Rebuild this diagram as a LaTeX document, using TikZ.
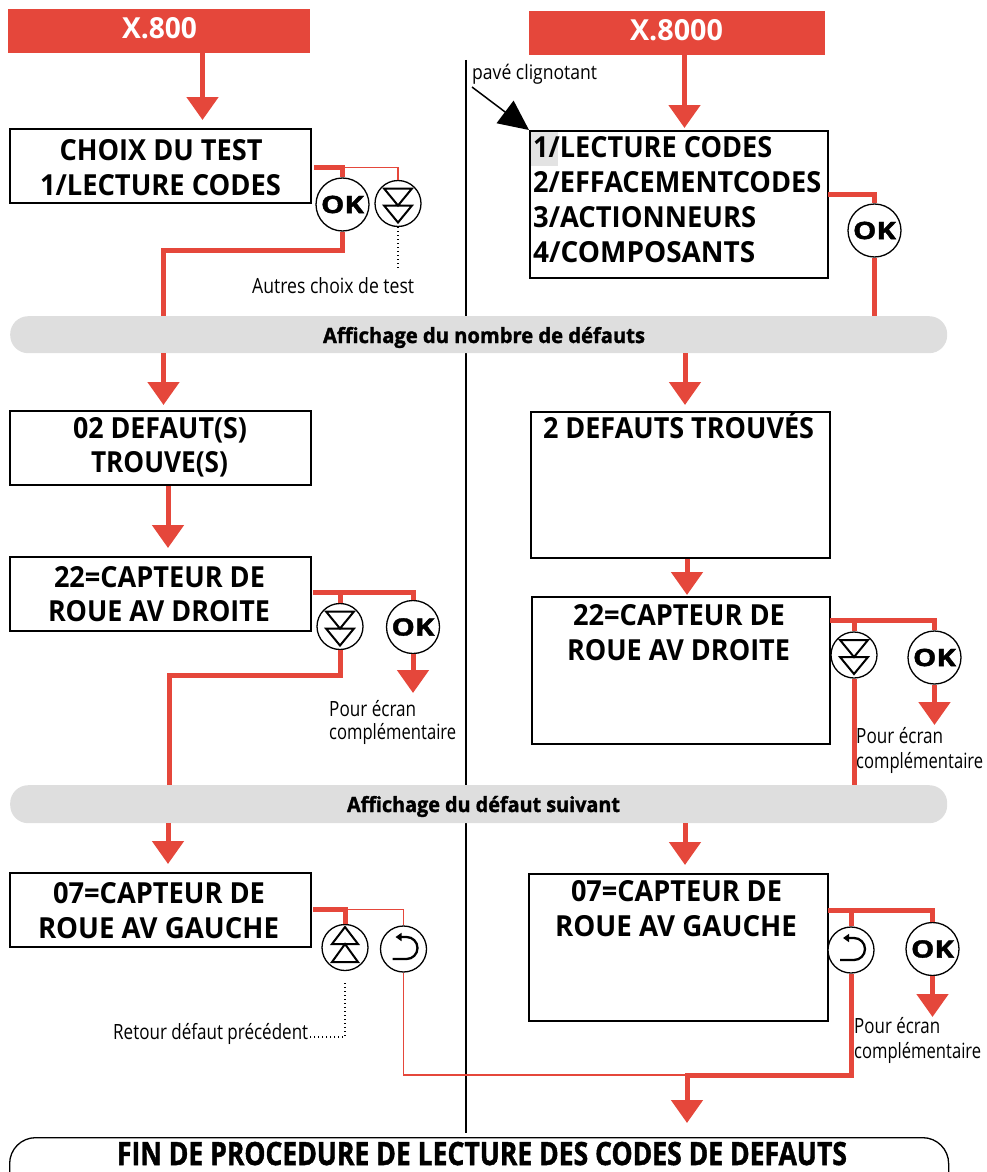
\documentclass[tikz,border=0pt]{standalone}
\usepackage{fontspec}
\setmainfont{Open Sans}
\newfontfamily\heavyfont{Open Sans}[FakeBold=1.5]
\usepackage{graphicx}
\usetikzlibrary{arrows.meta,calc}
\definecolor{myred}{HTML}{E5473B}
\definecolor{pillgray}{HTML}{DEDEDE}
\definecolor{hlgray}{HTML}{E3E3E3}
\newlength\fitlen
\newcommand\fitto[2]{\settowidth{\fitlen}{#2}\pgfmathsetmacro\fitratio{(#1)/(\fitlen)}\scalebox{\fitratio}[1]{#2}}
\tikzset{
  screen/.style={draw, line width=2pt, anchor=north west, inner sep=0pt},
  hdr/.style={fill=myred, anchor=north west, inner sep=0pt, minimum height=44pt},
  pill/.style={fill=pillgray, rounded corners=18pt, anchor=north west, inner sep=0pt, minimum width=937pt},
  btn/.style={circle, draw, line width=1.3pt, fill=white, inner sep=0pt, minimum size=#1},
  btn/.default=46pt,
  oktxt/.style={font=\fontsize{24}{28}\selectfont\heavyfont\bfseries},
  btxt/.style={anchor=base, inner sep=0pt, font=\fontsize{29}{35}\selectfont\bfseries},
  ltxt/.style={anchor=base west, inner sep=0pt, font=\fontsize{29}{35}\selectfont\bfseries},
  htxt/.style={anchor=base, inner sep=0pt, text=white, font=\fontsize{29}{35}\selectfont\bfseries},
  ptxt/.style={anchor=base, inner sep=0pt, font=\fontsize{21}{25}\selectfont\heavyfont\bfseries},
  small/.style={anchor=base west, inner sep=0pt, font=\fontsize{21}{25}\selectfont},
  thk/.style={draw=myred, line width=5pt},
  thn/.style={draw=myred, line width=1.8pt},
  arr/.style={-{Triangle[width=31pt,length=23pt]}},
  sym/.style={line width=2pt, line join=miter},
  dots/.style={line width=1.3pt, dash pattern=on 1.3pt off 2.7pt}
}
\begin{document}
\begin{tikzpicture}[x=1pt,y=-1pt]
\useasboundingbox (0,0) rectangle (986,1172);
\clip (0,0) rectangle (986,1172);

% divider
\draw[line width=2pt] (466,60) -- (466,1133);

% headers
\node[hdr, minimum width=302pt] (hdr1) at (8,9) {};
\node[htxt] (h1t) at (159.5,39) {\fitto{75}{X.800}};
\node[hdr, minimum width=296pt] (hdr2) at (529,11) {};
\node[htxt] (h2t) at (676.5,41) {\fitto{93}{X.8000}};

% pills
\node[pill, minimum height=37pt] (pill1) at (10,316) {};
\node[ptxt] (p1t) at (484,343) {\fitto{322}{Affichage du nombre de défauts}};
\node[pill, minimum height=38pt] (pill2) at (10,785) {};
\node[ptxt] (p2t) at (483.5,812) {\fitto{273}{Affichage du défaut suivant}};

% left screens
\node[screen, minimum width=301pt, minimum height=74pt] (choix) at (9,128) {};
\node[btxt] (t1a) at (161,160) {\fitto{203}{CHOIX DU TEST}};
\node[btxt] (t1b) at (160.5,195) {\fitto{241}{1/LECTURE CODES}};

\node[screen, minimum width=301pt, minimum height=74pt] (box02) at (9,410) {};
\node[btxt] (t2a) at (160,438) {\fitto{174}{02 DEFAUT(S)}};
\node[btxt] (t2b) at (159.5,472) {\fitto{137}{TROUVE(S)}};

\node[screen, minimum width=301pt, minimum height=74pt] (box22l) at (9,556) {};
\node[btxt] (t3a) at (159.5,587) {\fitto{211}{22=CAPTEUR DE}};
\node[btxt] (t3b) at (159,621) {\fitto{222}{ROUE AV DROITE}};

\node[screen, minimum width=301pt, minimum height=74pt] (box07l) at (9,872) {};
\node[btxt] (t4a) at (159,903) {\fitto{212}{07=CAPTEUR DE}};
\node[btxt] (t4b) at (158.5,938) {\fitto{241}{ROUE AV GAUCHE}};

% right screens
\node[fill=hlgray, anchor=north west, inner sep=0pt, minimum width=28pt, minimum height=35pt] (hl) at (530,131) {};
\node[screen, minimum width=298pt, minimum height=147pt] (menu) at (529,130) {};
\node[ltxt] (m1) at (533,157) {\fitto{239}{1/LECTURE CODES}};
\node[ltxt] (m2) at (533,192) {\fitto{288}{2/EFFACEMENTCODES}};
\node[ltxt] (m3) at (533,227) {\fitto{223}{3/ACTIONNEURS}};
\node[ltxt] (m4) at (533,262) {\fitto{222}{4/COMPOSANTS}};

\node[screen, minimum width=299pt, minimum height=146pt] (box2t) at (530,411) {};
\node[btxt] (t5) at (678.5,438) {\fitto{271}{2 DEFAUTS TROUVÉS}};

\node[screen, minimum width=298pt, minimum height=147pt] (box22r) at (531,596) {};
\node[btxt] (t6a) at (679,625) {\fitto{212}{22=CAPTEUR DE}};
\node[btxt] (t6b) at (678.5,660) {\fitto{223}{ROUE AV DROITE}};

\node[screen, minimum width=299pt, minimum height=147pt] (box07r) at (528,873) {};
\node[btxt] (t7a) at (676.5,901) {\fitto{211}{07=CAPTEUR DE}};
\node[btxt] (t7b) at (676,936) {\fitto{242}{ROUE AV GAUCHE}};

% final pill
\node[draw, line width=1.3pt, fill=white, rounded corners=26pt, anchor=north west, inner sep=0pt, minimum width=939pt, minimum height=70pt] (fin) at (9,1137) {};
\node[anchor=base, inner sep=0pt, font=\fontsize{32}{38}\selectfont\heavyfont\bfseries] (fint) at (482,1165) {\fitto{730}{FIN DE PROCEDURE DE LECTURE DES CODES DE DEFAUTS}};

% buttons
\node[btn=53pt, oktxt] (ok1) at (342.5,204.5) {\fitto{43}{OK}};
\node[btn] (dn1) at (398,203.5) {};
\node[btn=53pt, oktxt] (ok2) at (874.5,230.5) {\fitto{43}{OK}};
\node[btn] (dn2) at (340,626.5) {};
\node[btn=53pt, oktxt] (ok4) at (413,627) {\fitto{43}{OK}};
\node[btn] (dn3) at (854,655) {};
\node[btn=53pt, oktxt] (ok3) at (934.5,657.5) {\fitto{43}{OK}};
\node[btn] (up2) at (345,947.5) {};
\node[btn] (ret1) at (403.5,949) {};
\node[btn] (ret2) at (851,950) {};
\node[btn=53pt, oktxt] (ok5) at (932.5,949) {\fitto{43}{OK}};

% symbols
\foreach \n in {dn1,dn2,dn3}{
  \draw[sym, shift={(\n.center)}] (-14,-15) -- (14,-15) -- (0,2) -- cycle (-14,2) -- (14,2) -- (0,19) -- cycle;
}
\draw[sym, shift={(up2.center)}] (-13,14.5) -- (13,14.5) -- (0,-3.5) -- cycle (-13,-3.5) -- (13,-3.5) -- (0,-20.5) -- cycle;
\foreach \n in {ret1,ret2}{
  \draw[sym, line width=2.3pt, shift={(\n.center)}, -{Triangle[width=8pt,length=6pt]}] (-11,10) -- (3,10) arc[start angle=90, end angle=-90, radius=11] -- (-8,-12);
}

% small labels
\node[small] (autres) at (252,293) {\fitto{162}{Autres choix de test}};
\node[small] (pe1) at (329,716) {\fitto{87}{Pour écran}};
\node[small] (co1) at (329,739) {\fitto{127}{complémentaire}};
\node[small] (pe2) at (856,743) {\fitto{87}{Pour écran}};
\node[small] (co2) at (856,768) {\fitto{127}{complémentaire}};
\node[small] (pe3) at (854,1033) {\fitto{86}{Pour écran}};
\node[small] (co3) at (854,1058) {\fitto{127}{complémentaire}};
\node[small] (retour) at (113,1039) {\fitto{195}{Retour défaut précédent}};
\node[small, font=\fontsize{20}{24}\selectfont] (pave) at (472,80) {\fitto{125}{pavé clignotant}};

% coordinates
\coordinate (c202) at (202.5,0);
\coordinate (c684) at (684.5,0);
\coordinate (c685) at (685,0);
\coordinate (c687) at (687,0);
\coordinate (c168) at (168,0);
\coordinate (j1) at (314,167.5);
\coordinate (j2) at (163.5,250);
\coordinate (j3) at (313,592.5);
\coordinate (j4) at (169.5,675.5);
\coordinate (j5) at (313,909.5);
\coordinate (j6) at (403.5,1075);
\coordinate (j7) at (687,1075);
\coordinate (j8) at (828,194.5);
\coordinate (j9) at (830,620);
\coordinate (j10) at (828,910.5);
\coordinate (e1) at (413,693);
\coordinate (e2) at (934.5,725);
\coordinate (e3) at (932.5,1017);
\coordinate (d1) at (345,983);
\coordinate (d2) at (345,1037);
\coordinate (d3) at (398,268);
\coordinate (pa) at (472,87);

% pave clignotant arrow
\draw[line width=1.5pt, -{Triangle[width=28pt,length=30pt]}] (pa) -- (menu.north west);

% left column connectors
\draw[thk, arr] (hdr1.south -| c202) -- ($(choix.north -| c202)+(0,-8)$);
\draw[thk] (j1) -| (ok1.north);
\draw[thn] (ok1.north |- j1) -| (dn1.north);
\draw[dots] (dn1.south) -- (d3);
\draw[thk] (ok1.south) |- (j2) -- (j2 |- pill1.north);
\draw[thk, arr] (pill1.south -| j2) -- ($(box02.north -| j2)+(0,-5)$);
\draw[thk, arr] (box02.south -| c168) -- ($(box22l.north -| c168)+(0,-8)$);
\draw[thk] (j3) -| (ok4.north);
\draw[thk] (dn2.north |- j3) -- (dn2.north);
\draw[thk, arr] (ok4.south) -- (e1);
\draw[thk] (dn2.south) |- (j4) -- (j4 |- pill2.north);
\draw[thk, arr] (pill2.south -| c168) -- ($(box07l.north -| c168)+(0,-8)$);
\draw[thk] (j5) -| (up2.north);
\draw[thn] (up2.north |- j5) -| (ret1.north);
\draw[thn] (ret1.south) -- (j6) -- (j7);
\draw[dots] (d1) -- (d2) -- (d2 -| retour.east);

% right column connectors
\draw[thk, arr] (hdr2.south -| c684) -- ($(menu.north -| c684)+(0,-2)$);
\draw[thk] (j8) -| (ok2.north);
\draw[thk] (ok2.south) -- (ok2.south |- pill1.north);
\draw[thk, arr] (pill1.south -| c685) -- ($(box2t.north -| c685)+(0,-6)$);
\draw[thk, arr] (box2t.south -| c687) -- ($(box22r.north -| c687)+(0,-1)$);
\draw[thk] (j9) -| (ok3.north);
\draw[thk] (dn3.north |- j9) -- (dn3.north);
\draw[thk, arr] (ok3.south) -- (e2);
\draw[thk] (dn3.south) -- (dn3.south |- pill2.north);
\draw[thk, arr] (pill2.south -| c685) -- ($(box07r.north -| c685)+(0,-8)$);
\draw[thk] (j10) -| (ok5.north);
\draw[thk] (ret2.north |- j10) -- (ret2.north);
\draw[thk, arr] (ok5.south) -- (e3);
\draw[thk, arr] (ret2.south) |- (j7) -- ($(fin.north -| j7)+(0,-14)$);
\end{tikzpicture}
\end{document}
